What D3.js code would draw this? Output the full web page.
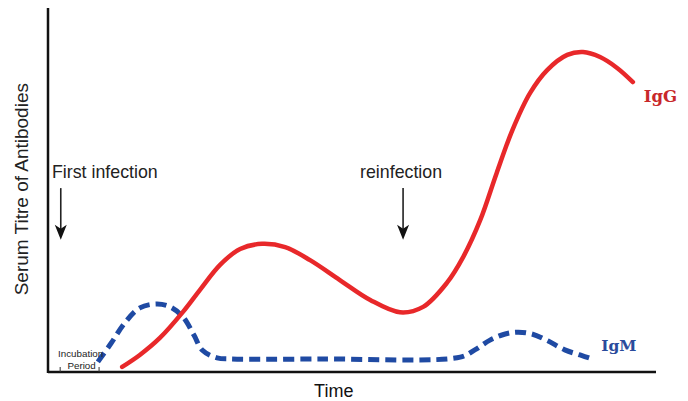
<!DOCTYPE html>
<style>
  body { margin: 0; background: #fff; }
  svg { display: block; font-family: Arial, "Liberation Sans", sans-serif; }
</style>
<svg width="688" height="401"></svg>
<script src="https://d3js.org/d3.v7.min.js"></script>
<script>
  // Time (0-100) and titre (0-100) are arbitrary units
  var iggTime  = [12.2, 15.1, 18.4, 22.2, 25.0, 28.3, 31.6, 35.2, 39.0, 43.1, 48.0, 53.0, 57.9, 61.7, 65.6, 68.3, 71.1, 73.8, 76.4, 79.3, 82.1, 85.4, 88.0, 90.8, 93.6, 96.2];
  var iggTitre = [1.4, 4.7, 9.4, 16.6, 22.7, 29.6, 34.0, 35.4, 34.5, 30.9, 25.4, 19.9, 16.5, 18.0, 24.6, 31.8, 42.0, 55.0, 66.9, 77.1, 83.4, 87.6, 88.4, 87.0, 84.0, 80.1];

  var igmTime  = [8.2, 10.4, 12.6, 15.1, 17.9, 20.1, 22.2, 24.0, 25.4, 27.8, 30.0, 45.0, 67.8, 70.2, 72.7, 75.2, 77.3, 79.6, 82.2, 85.0, 87.5, 89.5];
  var igmTitre = [2.8, 8.0, 13.5, 17.7, 18.8, 18.0, 15.2, 10.2, 6.0, 3.9, 3.6, 3.6, 4.1, 6.1, 8.8, 10.5, 11.0, 10.5, 8.6, 6.1, 4.7, 3.6];

  var infectionLabels = ["First infection", "reinfection"];
  var infectionTimes = [2.1, 58.4];
  var incubationTimes = [2.0, 8.4];

  var svg = d3.select("svg"),
    margin = { top: 8, right: 32, bottom: 29, left: 48 },
    width = +svg.attr("width") - margin.left - margin.right,
    height = +svg.attr("height") - margin.top - margin.bottom;

  var g = svg.append("g")
    .attr("transform", "translate(" + margin.left + "," + margin.top + ")");

  var x = d3.scaleLinear().domain([0, 100]).range([0, 608]);
  var y = d3.scaleLinear().domain([0, 100]).range([height, height - 362]);

  var line = d3.line()
    .x(function(d) { return x(d[0]); })
    .y(function(d) { return y(d[1]); })
    .curve(d3.curveCatmullRom.alpha(0.5));

  var igg = d3.zip(iggTime, iggTitre);
  var igm = d3.zip(igmTime, igmTitre);

  // IgM (dashed blue)
  g.append("path")
    .datum(igm)
    .attr("fill", "none")
    .attr("stroke", "#1f4aa3")
    .attr("stroke-width", 5)
    .attr("stroke-dasharray", "11,6")
    .attr("d", line);

  // IgG (red)
  g.append("path")
    .datum(igg)
    .attr("fill", "none")
    .attr("stroke", "#e8282a")
    .attr("stroke-width", 4.5)
    .attr("stroke-linecap", "round")
    .attr("d", line);

  // axes: plain lines, no ticks
  g.append("line")
    .attr("x1", 0).attr("x2", 0)
    .attr("y1", 0).attr("y2", height + 1)
    .attr("stroke", "#111").attr("stroke-width", 2.5);
  g.append("line")
    .attr("x1", 0).attr("x2", x(100))
    .attr("y1", height).attr("y2", height)
    .attr("stroke", "#111").attr("stroke-width", 2.5);

  g.append("text")
    .attr("transform", "translate(-20," + (y(50.5)) + ") rotate(-90)")
    .attr("text-anchor", "middle")
    .attr("font-size", 19)
    .attr("fill", "#222")
    .text("Serum Titre of Antibodies");

  g.append("text")
    .attr("x", x(47))
    .attr("y", height + 25)
    .attr("text-anchor", "middle")
    .attr("font-size", 18)
    .attr("fill", "#111")
    .text("Time");

  // infection annotations with arrows
  var ann = g.selectAll(".ann")
    .data(d3.zip(infectionLabels, infectionTimes))
    .join("g")
    .attr("class", "ann");

  ann.append("text")
    .attr("x", function(d, i) { return i === 0 ? 4 : x(d[1]) - 2; })
    .attr("y", y(53.5))
    .attr("text-anchor", function(d, i) { return i === 0 ? "start" : "middle"; })
    .attr("font-size", 17.8)
    .attr("fill", "#222")
    .text(function(d) { return d[0]; });

  ann.append("line")
    .attr("x1", function(d) { return x(d[1]); })
    .attr("x2", function(d) { return x(d[1]); })
    .attr("y1", y(50.8))
    .attr("y2", y(39.5))
    .attr("stroke", "#222")
    .attr("stroke-width", 1.6);

  ann.append("path")
    .attr("fill", "#111")
    .attr("d", function(d) {
      var cx = x(d[1]), ty = y(36.5);
      return "M" + (cx - 6) + "," + (ty - 15) + "L" + cx + "," + ty + "L" + (cx + 6) + "," + (ty - 15) + "L" + cx + "," + (ty - 11) + "Z";
    });

  // incubation period
  g.selectAll(".inc")
    .data(incubationTimes)
    .join("line")
    .attr("class", "inc")
    .attr("x1", function(d) { return x(d); })
    .attr("x2", function(d) { return x(d); })
    .attr("y1", height - 5)
    .attr("y2", height)
    .attr("stroke", "#333")
    .attr("stroke-width", 1);

  g.append("text")
    .attr("x", x(d3.mean(incubationTimes)) + 1)
    .attr("y", y(4.2))
    .attr("text-anchor", "middle")
    .attr("font-size", 9.8)
    .attr("fill", "#222")
    .text("Incubation");
  g.append("text")
    .attr("x", x(d3.mean(incubationTimes)) + 2)
    .attr("y", y(0.8))
    .attr("text-anchor", "middle")
    .attr("font-size", 9.8)
    .attr("fill", "#222")
    .text("Period");

  // series labels
  g.append("text")
    .attr("x", x(98.0))
    .attr("y", y(74.5))
    .attr("font-family", "'DejaVu Serif', 'Liberation Serif', serif")
    .attr("font-weight", "bold")
    .attr("font-size", 16.5)
    .attr("fill", "#c8282a")
    .text("IgG");
  g.append("text")
    .attr("x", x(91.0))
    .attr("y", y(5.8))
    .attr("font-family", "'DejaVu Serif', 'Liberation Serif', serif")
    .attr("font-weight", "bold")
    .attr("font-size", 15.5)
    .attr("fill", "#2a4b9c")
    .text("IgM");
</script>
